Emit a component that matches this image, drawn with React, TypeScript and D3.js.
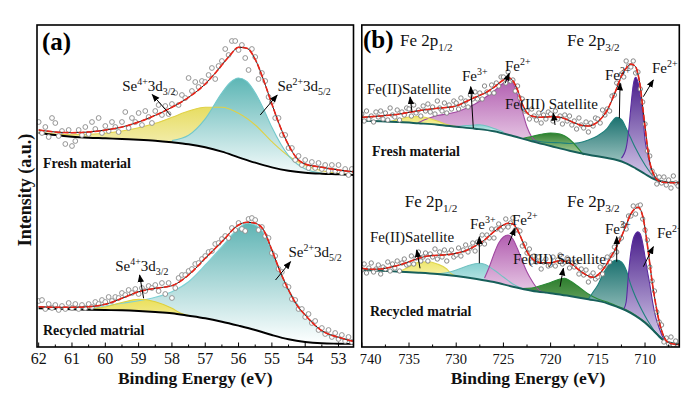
import React from "react";
import * as d3 from "d3";

const FONT = '"Liberation Serif", "Times New Roman", serif';

// ---------- Panel (a): Se 3d ----------
const A_GRID = [62, 61.5, 61, 60.5, 60, 59.5, 59, 58.5, 58, 57.5, 57, 56.5, 56, 55.5, 55, 54.5, 54, 53.5, 53, 52.5];
const aFreshBase = [214.3, 212, 210.3, 209.3, 208.7, 208, 207.3, 206.3, 204.7, 202.7, 199.7, 195.3, 189.7, 184.3, 179.7, 176.3, 174.3, 173.3, 172.7, 172];
const aFreshSe4 = [215, 213, 212.3, 212.7, 213.7, 216, 219.3, 223.7, 229.7, 236, 239.7, 239.7, 233.7, 222, 205.3, 191, 182, 176.3, 173.7, 172.3];
const aFreshSe2E = [58, 57.5, 57, 56.5, 56.25, 56, 55.75, 55.5, 55.25, 55, 54.5, 54, 53.5];
const aFreshSe2 = [206.5, 211.7, 228.1, 254.1, 264.5, 269, 265.5, 254.1, 238, 219.7, 191.3, 178, 173.9];
const aFreshFitE = [62, 61.5, 61, 60.5, 60, 59.5, 59, 58.5, 58, 57.5, 57, 56.75, 56.5, 56.25, 56, 55.75, 55.5, 55.25, 55, 54.75, 54.5, 54.25, 54, 53.5, 53, 52.5];
const aFreshFit = [217, 215, 214.3, 215, 217, 220, 225, 231.7, 239.7, 249.7, 263, 272, 282, 292, 299.7, 298.7, 287.7, 267, 243, 220.3, 202, 188.7, 183, 179.7, 177, 175];
const aFreshPts = [
  225, 214, 220, 210, 229, 224, 211, 216, 203, 217,
  201, 206, 217, 212, 220, 213, 225, 218, 229, 214,
  221, 216, 225, 220, 215, 225, 235, 219, 229, 225,
  234, 222, 236, 230, 224, 236, 242, 232, 241, 233,
  243, 254, 242, 252, 249, 269, 256, 265, 260, 266,
  265, 272, 279, 268, 281, 286, 298, 292, 306, 306,
  297, 302, 289, 277, 298, 290, 268, 274, 266, 250,
  245, 229, 229, 212, 212, 199, 199, 187, 191, 182,
  187, 179, 185, 179, 184, 178, 182, 176, 182, 176,
  182, 174, 178, 172, 178,
];

const aRecBase = [38.7, 38.3, 37.7, 37.3, 37, 36.7, 36, 35, 33.7, 31.3, 28.7, 25.3, 21.3, 17, 12, 7.7, 5, 3.7, 3.3, 3];
const aRecSe4E = [60.75, 60.5, 60, 59.5, 59, 58.5, 58, 57.75, 57.5];
const aRecSe4 = [37.5, 38, 40, 44.5, 47.7, 45.3, 38.7, 34, 31.5];
const aRecSe2E = [62, 61.5, 61, 60.5, 60, 59.5, 59, 58.5, 58, 57.5, 57, 56.5, 56, 55.75, 55.5, 55.25, 55, 54.5, 54, 53.5, 53, 52.5];
const aRecSe2 = [38.7, 38.5, 38.3, 38.5, 41, 43.7, 46.3, 49.7, 55.3, 65.3, 82, 100.3, 118.7, 123.7, 122, 114, 95.3, 57.3, 32, 15.3, 8.7, 4.3];
const aRecFitE = [62, 61.5, 61, 60.5, 60, 59.5, 59, 58.5, 58, 57.5, 57, 56.5, 56, 55.75, 55.5, 55.25, 55, 54.75, 54.5, 54.25, 54, 53.5, 53, 52.5];
const aRecFit = [40.3, 39.7, 39.7, 40.3, 42.7, 48.7, 55.3, 58.7, 61.3, 72, 88.7, 105.3, 122, 124.7, 123.7, 117, 97, 75.3, 57, 42, 32, 16.3, 9.7, 5.3];
const aRecPts = [
  46, 47, 38, 43, 39, 42, 37, 41, 38, 44,
  39, 43, 38, 42, 39, 43, 40, 45, 43, 47,
  45, 50, 46, 50, 49, 54, 52, 57, 54, 58,
  53, 59, 56, 61, 59, 62, 56, 64, 53, 64,
  49, 59, 69, 72, 72, 76, 78, 83, 84, 88,
  91, 95, 96, 103, 104, 108, 111, 109, 119, 117,
  124, 118, 116, 128, 129, 127, 117, 120, 111, 109,
  94, 91, 78, 75, 62, 60, 48, 47, 38, 38,
  30, 33, 24, 26, 17, 19, 13, 17, 10, 14,
  8, 12, 6, 10, 5,
];
const A_PT_START = 62;
const A_PT_STEP = 0.1;

// ---------- Panel (b): Fe 2p ----------
const B_BASE_E = [740, 738, 736, 734, 732, 730, 728, 726, 724, 722, 720, 718, 716, 714, 713, 712, 711, 710, 709, 708, 707, 706];
const bFreshBase = [226.3, 225.7, 225, 223.7, 222.3, 220.3, 218.3, 215.7, 211, 205.7, 201, 196.3, 192.3, 189, 187, 183.7, 178.7, 173, 167.7, 165.3, 164.7, 164.5];
const bFreshMagE = [734, 733, 732, 731, 730, 729, 728, 727, 726, 725, 724.5, 724, 723.5, 723, 722.5, 722, 721.5, 721];
const bFreshMag = [224.5, 228.5, 231.5, 233, 235, 238.5, 243, 249, 256, 264, 267, 264, 252, 236, 220, 210, 205.5, 203.5];
const bFreshYelE = [737, 736, 735, 734, 733, 732, 731, 730];
const bFreshYel = [225.5, 228, 230, 230.5, 229, 226, 222.5, 220.5];
const bFreshCyaE = [730, 729, 728, 727.5, 727, 726, 725];
const bFreshCya = [220.5, 221.5, 222, 222.3, 221.5, 218.5, 215];
const bFreshTealE = [722, 721, 720, 719, 718, 717, 716, 715, 714, 713.5, 713, 712.5, 712, 711.5, 711, 710, 709, 708];
const bFreshTeal = [206.7, 205.3, 204.5, 204.2, 203.5, 204.3, 207, 211.3, 218.7, 225.3, 229.7, 227.7, 218.7, 208.7, 198.7, 182, 169.7, 165.3];
const bFreshGrnE = [723, 722, 721, 720, 719, 718, 717, 716.5];
const bFreshGrn = [208.5, 210.5, 212.7, 214, 213, 207.7, 197.7, 192];
const bFreshPurE = [712.5, 712, 711.75, 711.5, 711.25, 711, 710.75, 710.5, 710.25, 710, 709.75, 709.5, 709, 708.5, 708];
const bFreshPur = [189, 199, 215, 240, 262, 269.7, 265, 250, 235, 207, 194, 184, 169, 165.5, 165.3];
const bFreshFitE = [740, 738, 736, 734, 732, 730, 729, 728, 727, 726, 725, 724.5, 724, 723.5, 723, 722.5, 722, 721, 720, 719, 718, 717, 716, 715, 714, 713.5, 713, 712.5, 712, 711.5, 711, 710.75, 710.5, 710.25, 710, 709.75, 709.5, 709, 708.5, 708, 707, 706.4];
const bFreshFit = [229.7, 231, 233, 236.3, 238.7, 241, 245.3, 249.7, 253.7, 259.7, 267, 269.3, 266.3, 257, 243, 234.3, 231, 229.7, 230.3, 229.7, 226.3, 222.3, 221, 225.3, 237, 247, 258.7, 271, 278.7, 283, 280.3, 273, 260.3, 240.3, 220.3, 200.3, 185.3, 171, 166, 164.7, 164.3, 164.3];
const bFreshPts = [
  233, 226, 236, 228, 231, 225, 235, 230, 236, 228,
  234, 227, 239, 232, 230, 237, 227, 235, 232, 239,
  238, 231, 242, 234, 237, 231, 241, 236, 243, 235,
  240, 233, 246, 239, 236, 244, 234, 242, 238, 246,
  244, 238, 249, 242, 246, 240, 252, 248, 255, 248,
  254, 248, 261, 255, 254, 262, 254, 264, 261, 270,
  270, 264, 275, 266, 267, 256, 261, 249, 248, 236,
  236, 228, 238, 231, 227, 234, 224, 232, 228, 235,
  233, 226, 236, 228, 231, 223, 232, 226, 231, 222,
  226, 218, 229, 222, 219, 225, 215, 224, 221, 229,
  228, 224, 237, 232, 238, 236, 251, 252, 264, 262,
  273, 270, 286, 281, 280, 286, 274, 275, 258, 245,
  223, 196, 191, 176, 172, 163, 170, 164, 170, 162,
  167, 159, 171, 164, 161,
];

const bRecBase = [77, 76.3, 75.3, 74.3, 73, 71, 68.3, 65, 60.3, 56.3, 53.7, 51, 47.7, 43.7, 40.3, 36.3, 31, 24.3, 15.3, 6.3, 3.7, 3];
const bRecYelE = [736, 735, 734, 733, 732, 731, 730.5, 730];
const bRecYel = [75.5, 80, 84.7, 85.3, 83, 78, 73, 71];
const bRecCyaE = [732, 731, 730, 729, 728, 727.5, 727, 726, 725, 724, 723, 722];
const bRecCya = [73.2, 74.3, 77, 80.5, 83.3, 83.7, 82.7, 77, 70, 63, 58.5, 56.5];
const bRecMagE = [727, 726.5, 726, 725.5, 725, 724.5, 724, 723.5, 723, 722.5, 722, 721.5, 721, 720.5];
const bRecMag = [69, 80, 93, 104, 110, 112, 108, 98, 86, 75, 66.5, 59.5, 55.5, 54.3];
const bRecGrnE = [723, 722, 721, 720, 719, 718.5, 718, 717, 716, 715, 714, 713, 712, 711, 710, 709, 708];
const bRecGrn = [58.5, 59, 61.5, 64.5, 68, 68.7, 66.5, 60, 53, 48, 45, 41, 37.3, 31.8, 25, 15.8, 6.6];
const bRecTealE = [716, 715.5, 715, 714.5, 714, 713.5, 713, 712.5, 712, 711.5, 711, 710.5, 710, 709.5, 709, 708.5, 708];
const bRecTeal = [48, 55, 62, 72, 80, 85, 87, 85, 77, 62, 50, 40, 31, 23, 16, 10, 6.3];
const bRecPurE = [712.25, 712, 711.75, 711.5, 711.25, 711, 710.75, 710.5, 710.25, 710, 709.75, 709.5, 709.25, 709, 708.5, 708, 707.5];
const bRecPur = [38, 45, 73, 95, 108, 113.5, 115.3, 113, 104, 90, 76, 63, 48, 35, 19, 8, 5];
const bRecFitE = [740, 739, 738, 737, 736, 735, 734, 733, 732, 731, 730, 729, 728, 727, 726, 725, 724.5, 724, 723.5, 723, 722.5, 722, 721, 720, 719, 718, 717, 716, 715.5, 715, 714.5, 714, 713.5, 713, 712.5, 712, 711.5, 711, 710.75, 710.5, 710.25, 710, 709.75, 709.5, 709.25, 709, 708.5, 708, 707.5, 707, 706.4];
const bRecFit = [78.7, 77.7, 78, 79.7, 82, 85.3, 88.7, 91, 91.7, 92.3, 93.7, 96.3, 101, 107, 115.3, 122, 123.7, 123, 117, 106.3, 95.3, 88.7, 84.3, 84.3, 86.3, 84.3, 77, 71, 69.7, 72, 77, 83.7, 92, 100.3, 110.3, 122, 133, 138.7, 139.7, 137.7, 131, 118.7, 102, 83.7, 65.3, 50.3, 25.3, 10.3, 4.3, 3, 2.3];
const bRecPts = [
  77, 83, 74, 79, 84, 75, 78, 82, 73, 80,
  78, 85, 76, 83, 79, 86, 76, 84, 88, 82,
  83, 91, 83, 89, 95, 86, 90, 94, 86, 93,
  90, 98, 88, 95, 90, 97, 86, 94, 97, 90,
  92, 99, 91, 97, 102, 95, 99, 104, 96, 105,
  103, 112, 103, 112, 109, 118, 109, 118, 123, 117,
  120, 128, 120, 124, 129, 117, 117, 116, 101, 103,
  94, 98, 85, 91, 85, 90, 78, 85, 88, 81,
  82, 90, 81, 87, 92, 83, 85, 89, 79, 84,
  80, 85, 73, 78, 72, 77, 65, 71, 74, 68,
  70, 80, 73, 81, 90, 85, 92, 100, 95, 107,
  109, 122, 118, 131, 131, 141, 133, 141, 142, 128,
  117, 107, 80, 66, 56, 35, 25, 22, 5, 9,
  3, 10, 2, 6, 1,
];
const B_PT_START = 740;
const B_PT_STEP = 0.25;

// tick values
const A_TICKS = [62, 61, 60, 59, 58, 57, 56, 55, 54, 53];
const A_MINOR = [61.5, 60.5, 59.5, 58.5, 57.5, 56.5, 55.5, 54.5, 53.5, 52.5];
const B_TICKS = [740, 735, 730, 725, 720, 715, 710];
const B_MINOR = [737.5, 732.5, 727.5, 722.5, 717.5, 712.5, 707.5];

// annotations (energy, intensity)
type Part = [string, string];
const A_LABELS: { E: number; v: number; parts: Part[] }[] = [
  { E: 59.49, v: 256, parts: [["Se", ""], ["4+", "sup"], ["3d", ""], ["3/2", "sub"]] },
  { E: 54.83, v: 256, parts: [["Se", ""], ["2+", "sup"], ["3d", ""], ["5/2", "sub"]] },
  { E: 59.7, v: 76, parts: [["Se", ""], ["4+", "sup"], ["3d", ""], ["3/2", "sub"]] },
  { E: 54.5, v: 90, parts: [["Se", ""], ["2+", "sup"], ["3d", ""], ["5/2", "sub"]] },
];
const A_ARROWS = [
  [58.05, 232, 58.59, 252.5],
  [55.35, 232, 54.84, 252],
  [58.85, 48.7, 58.97, 72],
  [54.89, 67, 54.44, 85.3],
];
const A_NAMES = [
  { E: 61.87, v: 179, text: "Fresh material" },
  { E: 61.87, v: 12, text: "Recycled matrial" },
];
const B_LABELS: { E: number; v: number; parts: Part[]; size: number }[] = [
  { E: 735.95, v: 301, parts: [["Fe 2p", ""], ["1/2", "sub"]], size: 17 },
  { E: 718.26, v: 301, parts: [["Fe 2p", ""], ["3/2", "sub"]], size: 17 },
  { E: 729.39, v: 266, parts: [["Fe", ""], ["3+", "sup"]], size: 15 },
  { E: 724.83, v: 276, parts: [["Fe", ""], ["2+", "sup"]], size: 15 },
  { E: 739.45, v: 253, parts: [["Fe(II)Satellite", ""]], size: 15 },
  { E: 724.83, v: 238, parts: [["Fe(III) Satellite", ""]], size: 15 },
  { E: 714.24, v: 267, parts: [["Fe", ""], ["3+", "sup"]], size: 15 },
  { E: 709.26, v: 274, parts: [["Fe", ""], ["2+", "sup"]], size: 15 },
  { E: 735.45, v: 140, parts: [["Fe 2p", ""], ["1/2", "sub"]], size: 17 },
  { E: 718.26, v: 140, parts: [["Fe 2p", ""], ["3/2", "sub"]], size: 17 },
  { E: 728.54, v: 118, parts: [["Fe", ""], ["3+", "sup"]], size: 15 },
  { E: 724.09, v: 122, parts: [["Fe", ""], ["2+", "sup"]], size: 15 },
  { E: 739.13, v: 105, parts: [["Fe(II)Satellite", ""]], size: 15 },
  { E: 723.98, v: 83, parts: [["Fe(III) Satellite", ""]], size: 15 },
  { E: 714.24, v: 113, parts: [["Fe", ""], ["3+", "sup"]], size: 15 },
  { E: 708.73, v: 109, parts: [["Fe", ""], ["2+", "sup"]], size: 15 },
];
const B_ARROWS = [
  [734.68, 235, 734.89, 250],
  [728.19, 219, 728.46, 260.3],
  [724.83, 263.7, 724.38, 273.7],
  [719.53, 222, 719.71, 233.7],
  [712.72, 228.7, 712.65, 263.7],
  [710.18, 250.3, 709.12, 267],
  [733.83, 78.7, 734.18, 97],
  [727.55, 83.7, 727.55, 110.3],
  [724.48, 102, 723.77, 118.7],
  [719.0, 60.3, 718.65, 78.7],
  [713.0, 85.3, 713.0, 110.3],
  [710.18, 80.3, 709.12, 100.3],
];
const B_NAMES = [
  { E: 738.92, v: 191, text: "Fresh material" },
  { E: 739.13, v: 31, text: "Recycled matrial" },
];

// ---------- layout ----------
const TOP = 25;
const BOTTOM = 347;
const A_LEFT = 37, A_RIGHT = 353.5;
const B_LEFT = 361.8, B_RIGHT = 679.3;
const y = d3.scaleLinear().domain([0, 322]).range([BOTTOM, TOP]);
const xa = d3.scaleLinear().domain([62.05, 52.55]).range([A_LEFT, A_RIGHT]);
const xb = d3.scaleLinear().domain([740, 706.37]).range([B_LEFT, B_RIGHT]);

type Comp = { E: number[]; v: number[]; c0: string; c1: string; stroke: string };
const zip = (E: number[], v: number[]) => E.map((e, i) => [e, v[i]] as [number, number]);

function Spectrum(props: {
  id: string;
  x: d3.ScaleLinear<number, number>;
  baseE: number[];
  baseV: number[];
  baseStroke: string;
  comps: Comp[];
  fitE: number[];
  fitV: number[];
  ptStart: number;
  ptStep: number;
  ptV: number[];
  r: number;
  ptStroke: string;
}) {
  const { id, x, baseE, baseV, baseStroke, comps, fitE, fitV, ptStart, ptStep, ptV, r, ptStroke } = props;
  const curve = d3.curveMonotoneX;
  const bl = zip(baseE, baseV);
  const clipArea = d3.area<[number, number]>().x((d) => x(d[0])).y0(TOP).y1((d) => y(d[1])).curve(curve);
  const compArea = d3.area<[number, number]>().x((d) => x(d[0])).y0(BOTTOM).y1((d) => y(d[1])).curve(curve);
  const line = d3.line<[number, number]>().x((d) => x(d[0])).y((d) => y(d[1])).curve(curve);
  const ptE = ptV.map((_, i) => ptStart - i * ptStep);
  return (
    <g>
      <defs>
        <clipPath id={`${id}-above`}>
          <path d={clipArea(bl) || ""} />
        </clipPath>
        {comps.map((c, i) => (
          <linearGradient
            key={i}
            id={`${id}-g${i}`}
            gradientUnits="userSpaceOnUse"
            x1={0}
            x2={0}
            y1={y(d3.max(c.v) as number)}
            y2={y(d3.min(c.v) as number)}
          >
            <stop offset="0" stopColor={c.c0} />
            <stop offset="1" stopColor={c.c1} />
          </linearGradient>
        ))}
      </defs>
      <g clipPath={`url(#${id}-above)`}>
        {comps.map((c, i) => (
          <path key={i} d={compArea(zip(c.E, c.v)) || ""} fill={`url(#${id}-g${i})`} />
        ))}
      </g>
      {comps.map((c, i) => (
        <path key={i} d={line(zip(c.E, c.v)) || ""} fill="none" stroke={c.stroke} strokeWidth={1.1} />
      ))}
      <path d={line(bl) || ""} fill="none" stroke={baseStroke} strokeWidth={1.9} />
      {ptV.map((v, i) => (
        <circle key={i} cx={x(ptE[i])} cy={y(v)} r={r} fill="#fff" stroke={ptStroke} strokeWidth={0.9} />
      ))}
      <path d={line(zip(fitE, fitV)) || ""} fill="none" stroke="#222" strokeWidth={1.0} />
      <path d={line(zip(fitE, fitV)) || ""} fill="none" stroke="#ea2418" strokeWidth={1.6} strokeDasharray="6 2" />
    </g>
  );
}

function Rich({ x, yy, parts, size, bold }: { x: number; yy: number; parts: Part[]; size: number; bold?: boolean }) {
  let cur = 0;
  return (
    <text x={x} y={yy} fontSize={size} fontWeight={bold ? "bold" : "normal"} fill="#111" fontFamily={FONT}>
      {parts.map(([t, k], i) => {
        const target = k === "sup" ? -size * 0.4 : k === "sub" ? size * 0.28 : 0;
        const dy = target - cur;
        cur = target;
        return (
          <tspan key={i} dy={dy} fontSize={k ? size * 0.66 : size}>
            {t}
          </tspan>
        );
      })}
    </text>
  );
}

function Arrow({ x1, y1, x2, y2 }: { x1: number; y1: number; x2: number; y2: number }) {
  return <line x1={x1} y1={y1} x2={x2} y2={y2} stroke="#000" strokeWidth={1} markerEnd="url(#ah)" />;
}

function Axis({ x, ticks, minor, left, right, fs, title, titleX }: any) {
  return (
    <g fontFamily={FONT}>
      {ticks.map((t: number) => {
        const atEdge = Math.abs(x(t) - left) < 2;
        return (
          <g key={t}>
            <line x1={x(t)} x2={x(t)} y1={BOTTOM} y2={BOTTOM - 4.5} stroke="#000" strokeWidth={1} />
            <text x={atEdge ? x(t) - 2 : x(t)} y={364} textAnchor={atEdge ? "start" : "middle"} fontSize={fs} fill="#111">
              {t}
            </text>
          </g>
        );
      })}
      {minor
        .filter((t: number) => x(t) > left + 1 && x(t) < right - 1)
        .map((t: number) => (
          <line key={t} x1={x(t)} x2={x(t)} y1={BOTTOM} y2={BOTTOM - 2.5} stroke="#000" strokeWidth={1} />
        ))}
      <text x={titleX} y={384} textAnchor="middle" fontSize={17.5} fontWeight="bold" fill="#111">
        {title}
      </text>
    </g>
  );
}

export default function App() {
  const aFreshComps: Comp[] = [
    { E: A_GRID, v: aFreshSe4, c0: "#e7dd62", c1: "#fcfae8", stroke: "#e0d146" },
    { E: aFreshSe2E, v: aFreshSe2, c0: "#5db6b5", c1: "#f2fafa", stroke: "#72c8cb" },
  ];
  const aRecComps: Comp[] = [
    { E: aRecSe2E, v: aRecSe2, c0: "#5fb4b4", c1: "#fdffff", stroke: "#7ed2d6" },
    { E: aRecSe4E, v: aRecSe4, c0: "#ebe05c", c1: "#f1e98a", stroke: "#ded03c" },
  ];
  const Y = { c0: "#efe76e", c1: "#f6f1a6", stroke: "#e0d650" };
  const C = { c0: "#86d0d0", c1: "#d2eeee", stroke: "#72c2c2" };
  const M = { c0: "#b25eb0", c1: "#e8cae6", stroke: "#a048a0" };
  const G = { c0: "#2e7e2e", c1: "#b6d6a6", stroke: "#2a8a35" };
  const T = { c0: "#1c7270", c1: "#d0e4e0", stroke: "#1f807c" };
  const P = { c0: "#481c8a", c1: "#d8cfec", stroke: "#5a2ca0" };
  const bFreshComps: Comp[] = [
    { E: bFreshMagE, v: bFreshMag, ...M },
    { E: bFreshYelE, v: bFreshYel, ...Y },
    { E: bFreshCyaE, v: bFreshCya, ...C },
    { E: bFreshTealE, v: bFreshTeal, ...T },
    { E: bFreshGrnE, v: bFreshGrn, ...G },
    { E: bFreshPurE, v: bFreshPur, ...P },
  ];
  const bRecComps: Comp[] = [
    { E: bRecYelE, v: bRecYel, ...Y },
    { E: bRecCyaE, v: bRecCya, ...C },
    { E: bRecMagE, v: bRecMag, ...M },
    { E: bRecGrnE, v: bRecGrn, ...G },
    { E: bRecTealE, v: bRecTeal, ...T },
    { E: bRecPurE, v: bRecPur, ...P },
  ];

  return (
    <svg
      width={700}
      height={395}
      viewBox="0 0 700 395"
      style={{ position: "absolute", left: 0, top: 0, background: "#fff" }}
      fontFamily={FONT}
    >
      <defs>
        <clipPath id="clipA">
          <rect x={A_LEFT} y={TOP} width={A_RIGHT - A_LEFT} height={BOTTOM - TOP} />
        </clipPath>
        <clipPath id="clipB">
          <rect x={B_LEFT} y={TOP} width={B_RIGHT - B_LEFT} height={BOTTOM - TOP} />
        </clipPath>
        <marker id="ah" viewBox="0 0 10 10" refX="9" refY="5" markerWidth="8" markerHeight="8" markerUnits="userSpaceOnUse" orient="auto">
          <path d="M0,1 L10,5 L0,9 z" fill="#000" />
        </marker>
      </defs>
      <rect x={0} y={0} width={700} height={395} fill="#fff" />

      {/* Panel (a) */}
      <g clipPath="url(#clipA)">
        <Spectrum id="af" x={xa} baseE={A_GRID} baseV={aFreshBase} baseStroke="#000" comps={aFreshComps}
          fitE={aFreshFitE} fitV={aFreshFit} ptStart={A_PT_START} ptStep={A_PT_STEP} ptV={aFreshPts} r={2.4} ptStroke="#8a8a8a" />
        <Spectrum id="ar" x={xa} baseE={A_GRID} baseV={aRecBase} baseStroke="#000" comps={aRecComps}
          fitE={aRecFitE} fitV={aRecFit} ptStart={A_PT_START} ptStep={A_PT_STEP} ptV={aRecPts} r={2.4} ptStroke="#8a8a8a" />
        {A_ARROWS.map((a, i) => (
          <Arrow key={i} x1={xa(a[0])} y1={y(a[1])} x2={xa(a[2])} y2={y(a[3])} />
        ))}
        {A_LABELS.map((l, i) => (
          <Rich key={i} x={xa(l.E)} yy={y(l.v)} parts={l.parts} size={15} />
        ))}
        {A_NAMES.map((n, i) => (
          <text key={i} x={xa(n.E)} y={y(n.v)} fontSize={14} fontWeight="bold" fill="#111">{n.text}</text>
        ))}
        <text x={42} y={50} fontSize={25} fontWeight="bold" fill="#000">(a)</text>
      </g>
      <rect x={A_LEFT} y={TOP} width={A_RIGHT - A_LEFT} height={BOTTOM - TOP} fill="none" stroke="#000" strokeWidth={1.6} />
      <Axis x={xa} ticks={A_TICKS} minor={A_MINOR} left={-100} right={A_RIGHT} fs={16} title="Binding Energy (eV)" titleX={(A_LEFT + A_RIGHT) / 2} />

      {/* Panel (b) */}
      <g clipPath="url(#clipB)">
        <Spectrum id="bf" x={xb} baseE={B_BASE_E} baseV={bFreshBase} baseStroke="#175f5a" comps={bFreshComps}
          fitE={bFreshFitE} fitV={bFreshFit} ptStart={B_PT_START} ptStep={B_PT_STEP} ptV={bFreshPts} r={2.2} ptStroke="#7a7a7a" />
        <Spectrum id="br" x={xb} baseE={B_BASE_E} baseV={bRecBase} baseStroke="#175f5a" comps={bRecComps}
          fitE={bRecFitE} fitV={bRecFit} ptStart={B_PT_START} ptStep={B_PT_STEP} ptV={bRecPts} r={2.2} ptStroke="#7a7a7a" />
        {B_ARROWS.map((a, i) => (
          <Arrow key={i} x1={xb(a[0])} y1={y(a[1])} x2={xb(a[2])} y2={y(a[3])} />
        ))}
        {B_LABELS.map((l, i) => (
          <Rich key={i} x={xb(l.E)} yy={y(l.v)} parts={l.parts} size={l.size} />
        ))}
        {B_NAMES.map((n, i) => (
          <text key={i} x={xb(n.E)} y={y(n.v)} fontSize={14} fontWeight="bold" fill="#111">{n.text}</text>
        ))}
        <text x={363} y={48} fontSize={25} fontWeight="bold" fill="#000">(b)</text>
      </g>
      <rect x={B_LEFT} y={TOP} width={B_RIGHT - B_LEFT} height={BOTTOM - TOP} fill="none" stroke="#000" strokeWidth={1.6} />
      <Axis x={xb} ticks={B_TICKS} minor={B_MINOR} left={B_LEFT} right={B_RIGHT} fs={14.5} title="Binding Energy (eV)" titleX={528} />

      <text transform="translate(31,190) rotate(-90)" textAnchor="middle" fontSize={18} fontWeight="bold" fill="#111">
        Intensity (a.u.)
      </text>
    </svg>
  );
}
